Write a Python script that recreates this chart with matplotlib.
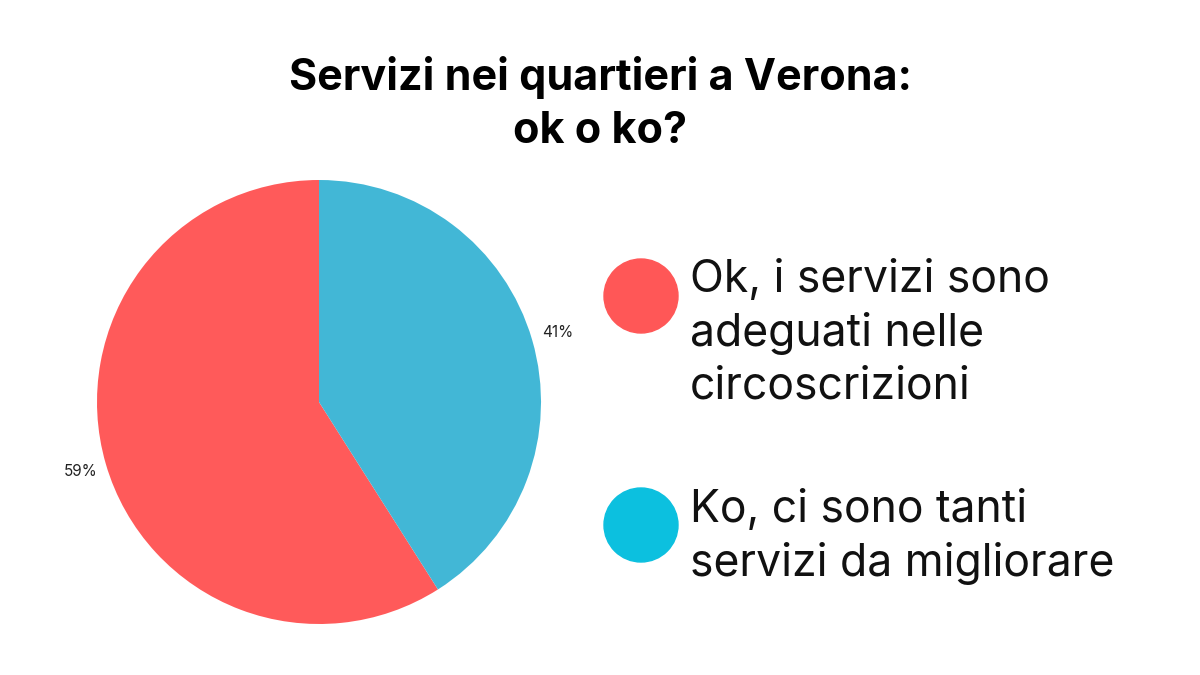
import matplotlib.pyplot as plt
from matplotlib.patches import Circle

# data
labels = ['Ok, i servizi sono\nadeguati nelle\ncircoscrizioni',
          'Ko, ci sono tanti\nservizi da migliorare']
values = [59, 41]
pie_colors = ['#FF5A5A', '#42B7D6']
legend_colors = ['#FF5757', '#0CC0DF']
title = 'Servizi nei quartieri a Verona:\nok o ko?'

plt.rcParams['font.family'] = ['Inter', 'DejaVu Sans']

fig = plt.figure(figsize=(12, 6.75), dpi=100)
fig.patch.set_facecolor('white')

W, H = 1200, 675
cx, cy, r = 319, 402, 222
ax = fig.add_axes([(cx - r) / W, (H - cy - r) / H, 2 * r / W, 2 * r / H])
ax.pie(values, colors=pie_colors, startangle=90, counterclock=True,
       autopct=lambda p: '%d%%' % round(p), pctdistance=1.12, radius=1,
       textprops={'fontsize': 11, 'color': '#222222'})
ax.set_xlim(-1, 1)
ax.set_ylim(-1, 1)
ax.set_aspect('equal')
ax.axis('off')

fig.text(600 / W, 1 - 104 / H, title, ha='center', va='center',
         fontsize=31, fontweight='bold', linespacing=1.4)

# legend drawn by hand: circle + text (positions in pixels from top)
circle_y = [296, 525]
text_y = [333, 537]
for lab, col, yc, ty in zip(labels, legend_colors, circle_y, text_y):
    fig.patches.append(Circle((641 / 100, (H - yc) / 100), 37 / 100,
                              transform=fig.dpi_scale_trans, color=col))
    fig.text(690 / W, 1 - ty / H, lab, ha='left', va='center',
             fontsize=32, linespacing=1.32, color='#111111')

fig.savefig('out.png', dpi=100)
